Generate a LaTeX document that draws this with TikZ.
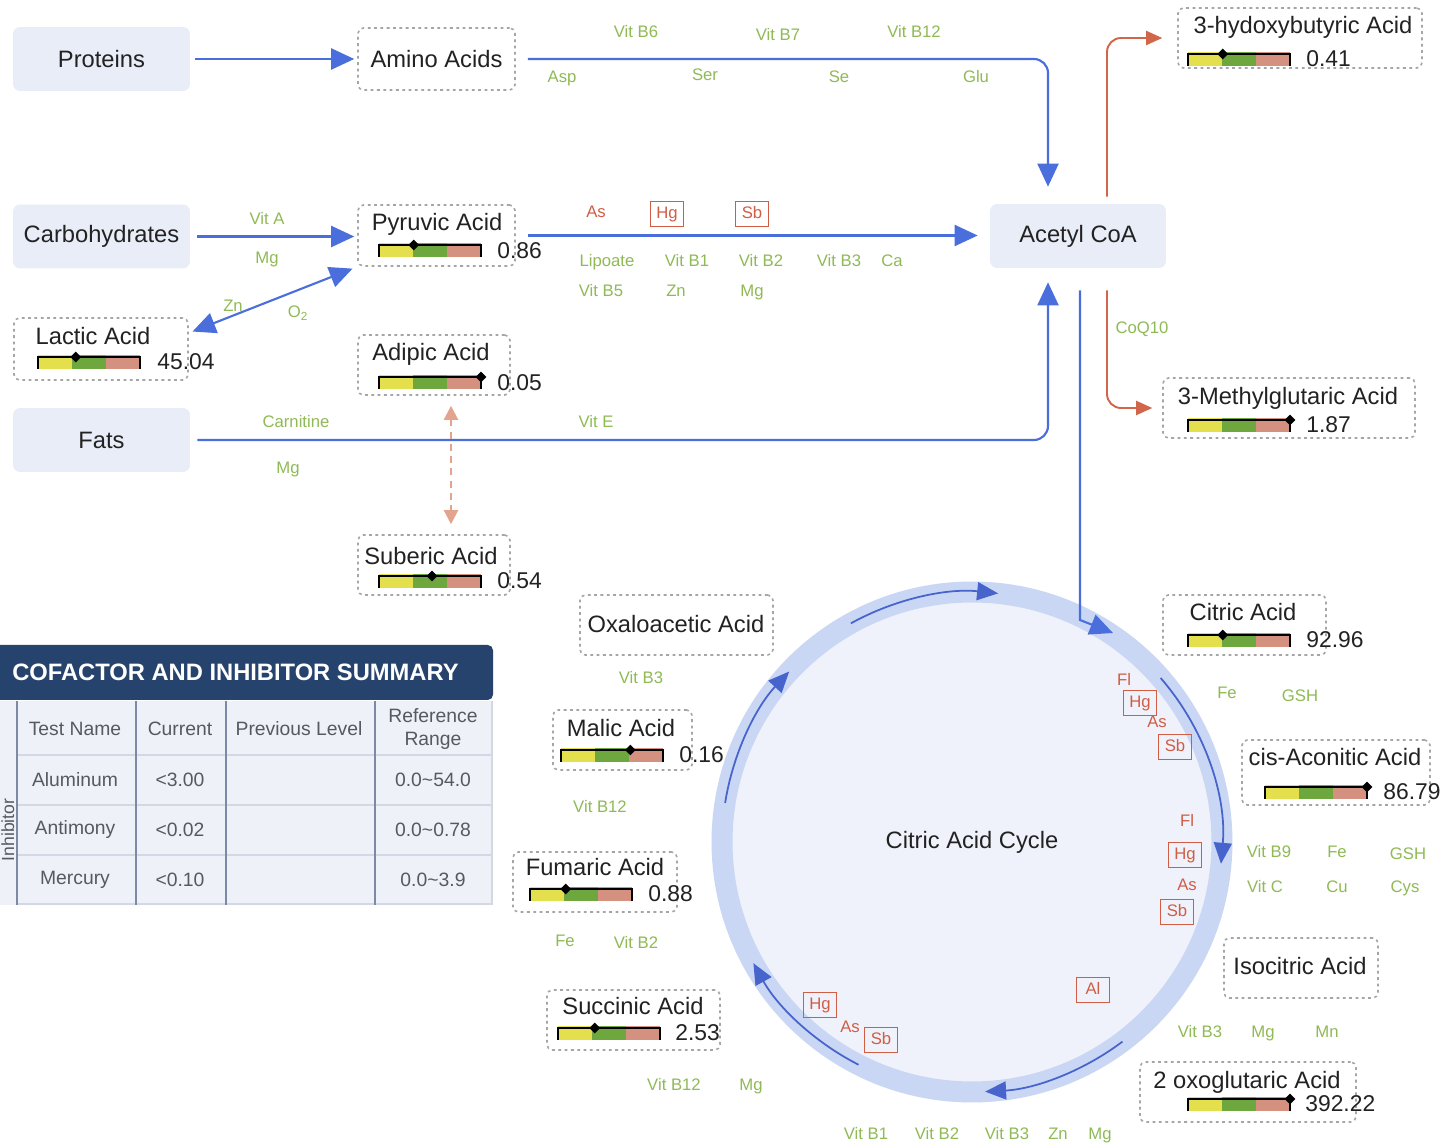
\documentclass[tikz,border=0pt]{standalone}
\usepackage{fontspec}
\setmainfont{Liberation Sans}
\usetikzlibrary{arrows.meta,shapes.geometric,calc}
\definecolor{blu}{HTML}{4A6FDC}
\definecolor{cyb}{HTML}{4763CC}
\definecolor{boxf}{HTML}{E9EDF8}
\definecolor{grn}{HTML}{8FBA55}
\definecolor{redl}{HTML}{CF5E45}
\definecolor{orarr}{HTML}{D2664A}
\definecolor{dsh}{HTML}{E2A48C}
\definecolor{ringc}{HTML}{C9D7F4}
\definecolor{cycf}{HTML}{EFF2FA}
\definecolor{navy}{HTML}{26436D}
\definecolor{cellf}{HTML}{EEF1F8}
\definecolor{gridv}{HTML}{7C8AA6}
\definecolor{gridh}{HTML}{D3D8E4}
\definecolor{dgray}{HTML}{A5A5A5}
\definecolor{txt}{HTML}{222222}
\definecolor{ttxt}{HTML}{555A60}
\definecolor{gy}{HTML}{E4DF4C}
\definecolor{gg}{HTML}{6DA73D}
\definecolor{gs}{HTML}{D5917F}
\newcommand\fmain{\fontsize{13.5}{16}\selectfont}
\newcommand\fsml{\fontsize{9.5}{11}\selectfont}
\newcommand\ftab{\fontsize{11}{13}\selectfont}
\newcommand\finh{\fontsize{10}{12}\selectfont}
\newcommand\fval{\fontsize{13}{15}\selectfont}
\newcommand\fhead{\fontsize{13.5}{16}\bfseries\selectfont}
% gauge: name, x left, y center, marker fraction
\newcommand\gaugebar[4]{%
  \begin{scope}[shift={(#2,#3)}]
    \fill[gy] (0,-6) rectangle (34,8);
    \fill[gg] (34,-6) rectangle (68,8);
    \fill[gs] (68,-6) rectangle (102,8);
    \draw[black, line width=1.3pt] (0,8) -- (0,-4) -- (102,-4) -- (102,8);
    \node[diamond, fill=black, inner sep=0, minimum size=0.22cm] (#1) at (102*#4,-4) {};
  \end{scope}}
\begin{document}
\begin{tikzpicture}[x=0.02cm,y=-0.02cm,
  solidbox/.style={fill=boxf, rounded corners=4pt, minimum width=3.54cm, minimum height=1.28cm, font=\fmain, text=txt, inner sep=0},
  dbox/.style={draw=dgray, dash pattern=on 1.6pt off 2pt, line width=0.9pt, rounded corners=3pt, inner sep=0},
  ttl/.style={font=\fmain, text=txt, inner sep=0, text height=9.5pt, text depth=2.5pt},
  val/.style={font=\fval, text=txt, inner sep=0, anchor=west, text height=9.3pt, text depth=0pt},
  gl/.style={font=\fsml, text=grn, inner sep=0, text height=7pt, text depth=2pt},
  rl/.style={font=\fsml, text=redl, inner sep=0, text height=7pt, text depth=2pt},
  rb/.style={rl, draw=redl, line width=0.8pt, minimum width=0.66cm, minimum height=0.5cm},
  tcell/.style={font=\ftab, text=ttxt, inner sep=0, align=center},
  barrow/.style={draw=blu, line width=1.2pt, -{Triangle[length=0.46cm,width=0.42cm]}},
  barrowboth/.style={draw=blu, line width=1.2pt, {Triangle[length=0.46cm,width=0.42cm]}-{Triangle[length=0.46cm,width=0.42cm]}},
  orarrow/.style={draw=orarr, line width=1.1pt, -{Triangle[length=0.32cm,width=0.28cm]}},
  dsharr/.style={draw=dsh, line width=1.2pt, dash pattern=on 4pt off 3pt, {Triangle[length=0.28cm,width=0.28cm]}-{Triangle[length=0.28cm,width=0.28cm]}},
  cyarr/.style={draw=cyb, line width=1pt, -{Triangle[length=0.42cm,width=0.36cm]}}
]
\useasboundingbox (0,0) rectangle (1445,1145);
\clip (0,0) rectangle (1445,1145);
\fill[white] (0,0) rectangle (1445,1145);

% ---------- solid boxes
\node[solidbox] (proteins) at (101.5,59) {Proteins};
\node[solidbox] (carbs) at (101.5,236.5) {Carbohydrates};
\node[solidbox] (fats) at (101.5,440) {Fats};
\node[solidbox, minimum width=3.52cm] (acetyl) at (1078,236) {Acetyl CoA};

% ---------- dashed boxes
\node[dbox, minimum width=3.14cm, minimum height=1.24cm, font=\fmain, text=txt] (amino) at (436.5,59) {Amino Acids};
\node[dbox, minimum width=3.14cm, minimum height=1.22cm] (pyr) at (436.5,235.5) {};
\node[dbox, minimum width=3.48cm, minimum height=1.24cm] (lactic) at (101,349) {};
\node[dbox, minimum width=3.04cm, minimum height=1.2cm] (adipic) at (434,365) {};
\node[dbox, minimum width=3.04cm, minimum height=1.2cm] (suberic) at (434,565) {};
\node[dbox, minimum width=4.88cm, minimum height=1.2cm] (hydroxy) at (1300,38) {};
\node[dbox, minimum width=5.04cm, minimum height=1.2cm] (methyl) at (1289,408) {};
\node[dbox, minimum width=3.86cm, minimum height=1.2cm] (oxalo) at (676.5,625) {};
\node[dbox, minimum width=2.78cm, minimum height=1.2cm] (malic) at (622.5,740) {};
\node[dbox, minimum width=3.28cm, minimum height=1.2cm] (fumaric) at (595,882) {};
\node[dbox, minimum width=3.46cm, minimum height=1.2cm] (succinic) at (633.5,1020) {};
\node[dbox, minimum width=3.26cm, minimum height=1.2cm] (citric) at (1244.5,625) {};
\node[dbox, minimum width=3.76cm, minimum height=1.3cm] (cisacon) at (1336,772.5) {};
\node[dbox, minimum width=3.08cm, minimum height=1.2cm] (isocit) at (1301,968) {};
\node[dbox, minimum width=4.32cm, minimum height=1.2cm] (oxoglut) at (1248,1092) {};

% ---------- titles
\node[ttl] (tpyr) at (437,224) {Pyruvic Acid};
\node[ttl] (tlac) at (93,338) {Lactic Acid};
\node[ttl] (tadi) at (431,354) {Adipic Acid};
\node[ttl] (tsub) at (431,558) {Suberic Acid};
\node[ttl] (thyd) at (1303,27) {3-hydoxybutyric Acid};
\node[ttl] (tmet) at (1288,398) {3-Methylglutaric Acid};
\node[ttl] (toxa) at (676,626) {Oxaloacetic Acid};
\node[ttl] (tmal) at (621,730) {Malic Acid};
\node[ttl] (tfum) at (595,869) {Fumaric Acid};
\node[ttl] (tsuc) at (633,1008) {Succinic Acid};
\node[ttl] (tcit) at (1243,614) {Citric Acid};
\node[ttl] (tcis) at (1335,759) {cis-Aconitic Acid};
\node[ttl] (tiso) at (1300,968) {Isocitric Acid};
\node[ttl] (toxo) at (1247,1082) {2 oxoglutaric Acid};

% ---------- gauges and values
\gaugebar{mpyr}{379}{249}{0.34}   \node[val] (vpyr) at (497,250) {0.86};
\gaugebar{mlac}{38}{361}{0.37}    \node[val] (vlac) at (157,361) {45.04};
\gaugebar{madi}{379}{381}{1.0}    \node[val] (vadi) at (497,382) {0.05};
\gaugebar{msub}{379}{580}{0.52}   \node[val] (vsub) at (497,580) {0.54};
\gaugebar{mhyd}{1188}{58}{0.34}   \node[val] (vhyd) at (1306,58) {0.41};
\gaugebar{mmet}{1188}{424}{1.0}   \node[val] (vmet) at (1306,424) {1.87};
\gaugebar{mmal}{561}{754}{0.68}   \node[val] (vmal) at (679,754) {0.16};
\gaugebar{mfum}{530}{893}{0.35}   \node[val] (vfum) at (648,893) {0.88};
\gaugebar{msuc}{558}{1032}{0.36}  \node[val] (vsuc) at (675,1032) {2.53};
\gaugebar{mcit}{1188}{639}{0.34}  \node[val] (vcit) at (1306,639) {92.96};
\gaugebar{mcis}{1265}{791}{1.0}   \node[val] (vcis) at (1383,791) {86.79};
\gaugebar{moxo}{1188}{1103}{1.0}  \node[val] (voxo) at (1305,1103) {392.22};

% ---------- citric acid cycle
\node[circle, minimum size=10cm, fill=cycf, draw=ringc, line width=0.42cm, font=\fmain, text=txt, inner sep=0] (cycle) at (972,842) {Citric Acid Cycle};
\draw[cyarr] ([shift={(119:5cm)}]cycle.center) arc[start angle=119, end angle=84, radius=5cm];
\draw[cyarr] ([shift={(171:5cm)}]cycle.center) arc[start angle=171, end angle=137, radius=5cm];
\draw[cyarr] ([shift={(41:5cm)}]cycle.center) arc[start angle=41, end angle=-5, radius=5cm];
\draw[cyarr] ([shift={(-53:5cm)}]cycle.center) arc[start angle=-53, end angle=-87, radius=5cm];
\draw[cyarr] ([shift={(-117:5cm)}]cycle.center) arc[start angle=-117, end angle=-151, radius=5cm];

% ---------- connectors
\draw[barrow, shorten <=0.1cm, shorten >=0.06cm] (proteins.east) -- (amino.west);
\draw[barrow, rounded corners=8pt, shorten <=0.24cm, shorten >=0.34cm] (amino.east) -| ([xshift=-0.6cm]acetyl.north);
\draw[barrow, shorten <=0.14cm, shorten >=0.06cm] (carbs.east) -- (carbs.east -| pyr.west);
\draw[barrowboth, shorten <=0.08cm, shorten >=0.1cm] ([yshift=0.32cm]lactic.east) -- (pyr.south west);
\draw[barrow, shorten <=0.24cm, shorten >=0.24cm] (pyr.east) -- (pyr.east -| acetyl.west);
\draw[barrow, rounded corners=8pt, shorten <=0.14cm, shorten >=0.28cm] (fats.east) -| ([xshift=-0.6cm]acetyl.south);
\draw[dsharr, shorten <=0.2cm, shorten >=0.2cm] ([xshift=0.34cm]adipic.south) -- ([xshift=0.34cm]suberic.north);
\draw[orarrow, rounded corners=8pt, shorten <=0.14cm, shorten >=0.3cm] ([xshift=0.58cm]acetyl.north) |- (hydroxy.west);
\draw[orarrow, rounded corners=8pt, shorten <=0.44cm, shorten >=0.2cm] ([xshift=0.58cm]acetyl.south) |- (methyl.west);
\coordinate (bend) at (1080,620);
\coordinate (cyin) at (1113,633);
\draw[barrow, shorten <=0.44cm] ([xshift=0.04cm]acetyl.south) -- (bend) -- (cyin);

% ---------- green cofactor labels
\foreach \t/\x/\y [count=\i] in {Vit B6/636/33, Vit B7/778/36, Vit B12/914/33, Asp/562/78, Ser/705/76, Se/839/78, Glu/976/78,
  Vit A/267/220, Mg/267/259, Zn/233/307, O\textsubscript{2}/298/313,
  Lipoate/607/262, Vit B1/687/262, Vit B2/761/262, Vit B3/839/262, Ca/892/262, Vit B5/601/292, Zn/676/292, Mg/752/292,
  Carnitine/296/423, Vit E/596/423, Mg/288/469, CoQ10/1142/329,
  Vit B3/641/679, Vit B12/600/808, Fe/565/942, Vit B2/636/944, Vit B12/674/1086, Mg/751/1086,
  Vit B1/866/1135, Vit B2/937/1135, Vit B3/1007/1135, Zn/1058/1135, Mg/1100/1135,
  Vit B3/1200/1033, Mg/1263/1033, Mn/1327/1033,
  Vit B9/1269/853, Fe/1337/853, GSH/1408/855, Vit C/1265/888, Cu/1337/888, Cys/1405/888,
  Fe/1227/694, GSH/1300/697}
  \node[gl] (g\i) at (\x,\y) {\t};

% ---------- red inhibitor labels
\foreach \t/\x/\y [count=\i] in {As/596/213, Fl/1124/681, As/1157/723, Fl/1187/822, As/1187/886, As/850/1028}
  \node[rl] (r\i) at (\x,\y) {\t};
\foreach \t/\x/\y [count=\i] in {Hg/667/214, Sb/752/214, Hg/1140/703, Sb/1175/747, Hg/1185/855, Sb/1177/912, Al/1093/990, Hg/820/1005, Sb/881/1040}
  \node[rb] (rb\i) at (\x,\y) {\t};

% ---------- summary table
\fill[navy, rounded corners=3pt] (-10,645) rectangle (493,700);
\node[font=\fhead, text=white, anchor=west, inner sep=0] (thead) at (12,672) {COFACTOR AND INHIBITOR SUMMARY};
\fill[cellf] (0,701) rectangle (493,905);
\foreach \yy in {755,805,855,904}
  \draw[gridh, line width=1.5pt] (17,\yy) -- (493,\yy);
\draw[gridh, line width=1.5pt] (492,701) -- (492,905);
\foreach \xx in {17,136,226,375}
  \draw[gridv, line width=1.3pt] (\xx,701) -- (\xx,905);
\node[font=\finh, text=ttxt, inner sep=0, rotate=90, anchor=base] (inh) at (14,830) {Inhibitor};
\node[tcell] (h1) at (75,729) {Test Name};
\node[tcell] (h2) at (180,729) {Current};
\node[tcell] (h3) at (299,729) {Previous Level};
\node[tcell] (h4) at (433,729) {Reference\\Range};
\node[tcell] (c11) at (75,780) {Aluminum};
\node[tcell] (c12) at (180,780) {<3.00};
\node[tcell] (c14) at (433,780) {0.0\textasciitilde54.0};
\node[tcell] (c21) at (75,830) {Antimony};
\node[tcell] (c22) at (180,830) {<0.02};
\node[tcell] (c24) at (433,830) {0.0\textasciitilde0.78};
\node[tcell] (c31) at (75,880) {Mercury};
\node[tcell] (c32) at (180,880) {<0.10};
\node[tcell] (c34) at (433,880) {0.0\textasciitilde3.9};
\end{tikzpicture}
\end{document}
